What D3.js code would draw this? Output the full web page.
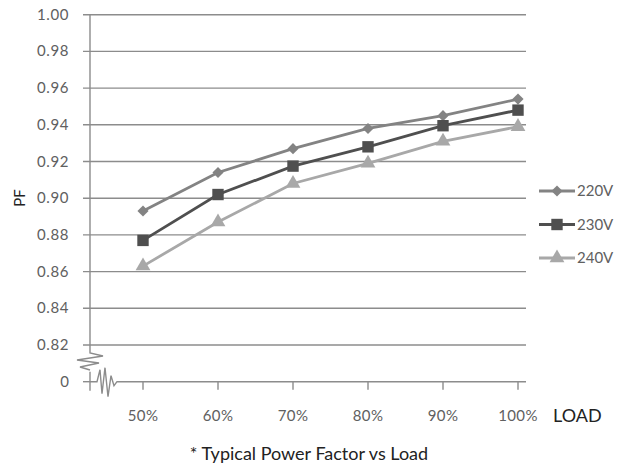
<!DOCTYPE html>
<html>
<head>
<meta charset="utf-8">
<script src="https://cdnjs.cloudflare.com/ajax/libs/d3/7.8.5/d3.min.js"></script>
<style>
  body { margin: 0; background: #fff; }
  text { font-family: Lato, "DejaVu Sans", sans-serif; }
</style>
</head>
<body>
<script>
var loads = ["50%", "60%", "70%", "80%", "90%", "100%"];
var seriesNames = ["220V", "230V", "240V"];
var pf220 = [0.893, 0.914, 0.927, 0.938, 0.945, 0.954];
var pf230 = [0.877, 0.902, 0.9175, 0.928, 0.9395, 0.948];
var pf240 = [0.863, 0.887, 0.908, 0.919, 0.931, 0.939];
var yTicks = [0.82, 0.84, 0.86, 0.88, 0.90, 0.92, 0.94, 0.96, 0.98, 1.00];
var breakLabel = "0";

var w = 618;
var h = 475;
var axisColor = "#8c8c8c";
var colors = ["#838383", "#4f4f4f", "#a8a8a8"];
// diamond is a square turned 45 degrees
var symbols = [d3.symbolSquare, d3.symbolSquare, d3.symbolTriangle];
var symRot = [45, 0, 0];
var symSizes = [62, 130, 95];

var series = [pf220, pf230, pf240];

var svg = d3.select("body")
            .append("svg")
            .attr("width", w)
            .attr("height", h);

var xScale = d3.scalePoint()
               .domain(loads)
               .range([143, 518]);

// domain bottom 0.80 is where the broken "0" sits
var yScale = d3.scaleLinear()
               .domain([0.80, 1.00])
               .range([381.7, 14.7]);

var left = 90;
var right = 526;

// gridlines
svg.selectAll("line.grid")
   .data(yTicks)
   .enter()
   .append("line")
   .attr("class", "grid")
   .attr("x1", left - 7)
   .attr("x2", right)
   .attr("y1", function(d){ return yScale(d); })
   .attr("y2", function(d){ return yScale(d); })
   .attr("stroke", axisColor)
   .attr("stroke-width", 1.4);

// y tick labels
svg.selectAll("text.ylab")
   .data(yTicks)
   .enter()
   .append("text")
   .attr("class", "ylab")
   .text(function(d){ return d3.format(".2f")(d); })
   .attr("x", 69)
   .attr("y", function(d){ return yScale(d) + 5; })
   .attr("text-anchor", "end")
   .attr("font-size", "15px")
   .attr("letter-spacing", "0.6px")
   .attr("fill", "#606060");

svg.append("text")
   .text(breakLabel)
   .attr("x", 69)
   .attr("y", yScale(0.80) + 5)
   .attr("text-anchor", "end")
   .attr("font-size", "15px")
   .attr("fill", "#606060");

// y axis with break
var y0 = yScale(0.80);
var y82 = yScale(0.82);
svg.append("path")
   .attr("d", "M" + left + "," + yScale(1.00) + "L" + left + "," + (y82 + 8) +
              "L" + (left + 13) + "," + (y82 + 11) + "L" + (left - 13) + "," + (y82 + 15) +
              "L" + (left + 9) + "," + (y82 + 18) + "L" + (left - 10) + "," + (y82 + 22) +
              "L" + left + "," + (y82 + 25))
   .attr("fill", "none")
   .attr("stroke", axisColor)
   .attr("stroke-width", 1.4);

svg.append("line")
   .attr("x1", left).attr("x2", left)
   .attr("y1", y0 - 10).attr("y2", y0 + 9)
   .attr("stroke", axisColor)
   .attr("stroke-width", 1.4);

svg.append("line")
   .attr("x1", left - 7).attr("x2", left)
   .attr("y1", y0).attr("y2", y0)
   .attr("stroke", axisColor)
   .attr("stroke-width", 1.4);

// x axis with break
svg.append("path")
   .attr("d", "M" + left + "," + y0 + "L" + (left + 7) + "," + y0 +
              "L" + (left + 10) + "," + (y0 - 12) + "L" + (left + 12) + "," + (y0 + 12) +
              "L" + (left + 15) + "," + (y0 - 14) + "L" + (left + 18) + "," + (y0 + 15) +
              "L" + (left + 21) + "," + (y0 - 6) + "L" + (left + 24) + "," + (y0 + 4) +
              "L" + (left + 27) + "," + y0 + "L" + right + "," + y0)
   .attr("fill", "none")
   .attr("stroke", axisColor)
   .attr("stroke-width", 1.4);

svg.selectAll("line.xtick")
   .data(loads)
   .enter()
   .append("line")
   .attr("class", "xtick")
   .attr("x1", function(d){ return xScale(d); })
   .attr("x2", function(d){ return xScale(d); })
   .attr("y1", y0)
   .attr("y2", y0 + 8)
   .attr("stroke", axisColor)
   .attr("stroke-width", 1.4);

svg.selectAll("text.xlab")
   .data(loads)
   .enter()
   .append("text")
   .attr("class", "xlab")
   .text(function(d){ return d; })
   .attr("x", function(d){ return xScale(d); })
   .attr("y", 421)
   .attr("text-anchor", "middle")
   .attr("font-size", "15px")
   .attr("letter-spacing", "0.4px")
   .attr("fill", "#606060");

svg.append("text")
   .text("LOAD")
   .attr("x", 553)
   .attr("y", 422)
   .attr("font-size", "18px")
   .attr("fill", "#222");

svg.append("text")
   .text("PF")
   .attr("transform", "translate(25,198) rotate(-90)")
   .attr("text-anchor", "middle")
   .attr("font-size", "15px")
   .attr("fill", "#222");

svg.append("text")
   .text("* Typical Power Factor vs Load")
   .attr("x", 309)
   .attr("y", 460)
   .attr("text-anchor", "middle")
   .attr("font-size", "18px")
   .attr("fill", "#222");

// series lines and markers
var line = d3.line()
             .x(function(d, i){ return xScale(loads[i]); })
             .y(function(d){ return yScale(d); });

series.forEach(function(vals, k){
  svg.append("path")
     .datum(vals)
     .attr("d", line)
     .attr("fill", "none")
     .attr("stroke", colors[k])
     .attr("stroke-width", 2.8);

  svg.selectAll("path.m" + k)
     .data(vals)
     .enter()
     .append("path")
     .attr("class", "m" + k)
     .attr("d", d3.symbol().type(symbols[k]).size(symSizes[k]))
     .attr("transform", function(d, i){
       return "translate(" + xScale(loads[i]) + "," + yScale(d) + ") rotate(" + symRot[k] + ")";
     })
     .attr("fill", colors[k]);
});

// legend
var legend = svg.selectAll("g.legend")
                .data(seriesNames)
                .enter()
                .append("g")
                .attr("class", "legend")
                .attr("transform", function(d, i){
                  return "translate(539," + (191 + i * 33.5) + ")";
                });

legend.append("line")
      .attr("x1", 0).attr("x2", 36)
      .attr("stroke", function(d, i){ return colors[i]; })
      .attr("stroke-width", 2.8);

legend.append("path")
      .attr("d", function(d, i){ return d3.symbol().type(symbols[i]).size(symSizes[i])(); })
      .attr("transform", function(d, i){ return "translate(18,0) rotate(" + symRot[i] + ")"; })
      .attr("fill", function(d, i){ return colors[i]; });

legend.append("text")
      .text(function(d){ return d; })
      .attr("x", 38)
      .attr("y", 5)
      .attr("font-size", "15px")
      .attr("fill", "#606060");
</script>
</body>
</html>
